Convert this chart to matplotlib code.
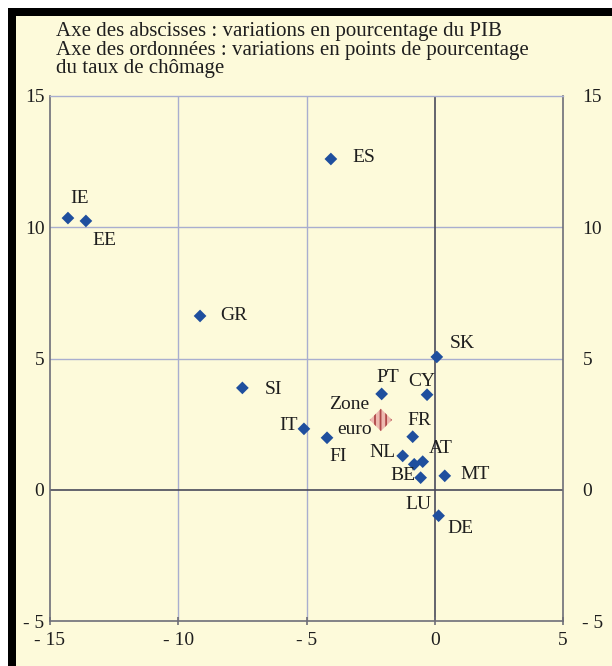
import matplotlib
matplotlib.use("Agg")
import matplotlib.pyplot as plt
from matplotlib.patches import Rectangle

# ---- data ----
countries = ["IE", "EE", "GR", "ES", "SI", "IT", "FI", "PT", "CY", "SK",
             "FR", "NL", "LU", "AT", "BE", "MT", "DE"]
gdp_change = [-14.3, -13.6, -9.15, -4.05, -7.5, -5.1, -4.2, -2.07, -0.3, 0.08,
              -0.86, -1.25, -0.8, -0.47, -0.55, 0.39, 0.15]
unemp_change = [10.35, 10.24, 6.62, 12.6, 3.88, 2.32, 1.98, 3.65, 3.62, 5.06,
                2.02, 1.29, 0.97, 1.07, 0.46, 0.53, -0.99]
euro_label = ["Zone", "euro"]
euro_x = [-2.1]
euro_y = [2.66]
x_ticks = [-15, -10, -5, 0, 5]
y_ticks = [-5, 0, 5, 10, 15]
x_tick_labels = ["- 15", "- 10", "- 5", "0", "5"]
y_tick_labels = ["- 5", "0", "5", "10", "15"]
title_lines = ["Axe des abscisses : variations en pourcentage du PIB",
               "Axe des ordonnées : variations en points de pourcentage",
               "du taux de chômage"]

# label offsets in pixels (layout)
offsets = {
    "IE": (12, 20), "EE": (18, -20), "GR": (34, 0), "ES": (33, 1),
    "SI": (31, -2), "IT": (-15, 3), "FI": (11, -19), "PT": (6, 16),
    "CY": (-5, 13), "SK": (25, 13), "FR": (7, 16), "NL": (-20, 3),
    "LU": (4, -40), "AT": (18, 13), "BE": (-18, 2), "MT": (30, 1),
    "DE": (22, -13),
}

BG = "#FDFADA"
TXT = "#1E1E1E"
W, H = 612, 666
plt.rcParams["font.family"] = ["Liberation Serif", "DejaVu Serif"]
fig = plt.figure(figsize=(W / 100, H / 100), dpi=100, facecolor=BG)

# frame: white margins + black bars top and left
fig.patches.append(Rectangle((0, 0), 8 / W, 1, transform=fig.transFigure,
                             facecolor="white", edgecolor="none", zorder=-1))
fig.patches.append(Rectangle((0, 1 - 8 / H), 1, 8 / H, transform=fig.transFigure,
                             facecolor="white", edgecolor="none", zorder=-1))
fig.patches.append(Rectangle((8 / W, 0), 8 / W, 1 - 8 / H, transform=fig.transFigure,
                             facecolor="black", edgecolor="none", zorder=0))
fig.patches.append(Rectangle((8 / W, 1 - 16 / H), 1 - 8 / W, 8 / H,
                             transform=fig.transFigure,
                             facecolor="black", edgecolor="none", zorder=0))

ax = fig.add_axes([50 / W, 1 - 621 / H, (563 - 50) / W, (621 - 96) / H])
ax.set_facecolor(BG)
ax.set_xlim(-15, 5)
ax.set_ylim(-5, 15)

grid_c = "#A9AECF"
for v in [-10, -5]:
    ax.axvline(v, color=grid_c, lw=1.0, zorder=1)
for v in [5, 10]:
    ax.axhline(v, color=grid_c, lw=1.0, zorder=1)
ax.axvline(0, color="#4A4A5A", lw=1.2, zorder=1)
ax.axhline(0, color="#4A4A5A", lw=1.2, zorder=1)

for s in ["left", "bottom", "right"]:
    ax.spines[s].set_color("#6E6E78")
    ax.spines[s].set_linewidth(1.2)
ax.spines["top"].set_color(grid_c)
ax.spines["top"].set_linewidth(1.0)

ax.set_xticks(x_ticks)
ax.set_xticklabels(x_tick_labels)
ax.set_yticks(y_ticks)
ax.set_yticklabels(y_tick_labels)
ax.tick_params(axis="x", direction="inout", length=6, width=1.2,
               color="#6E6E78", labelsize=14, pad=5, labelcolor=TXT)
ax.tick_params(axis="y", length=0, labelsize=14, pad=4, labelcolor=TXT)

# right-hand labels
ax2 = ax.twinx()
ax2.set_ylim(ax.get_ylim())
ax2.set_yticks(y_ticks)
ax2.set_yticklabels(y_tick_labels)
ax2.tick_params(axis="y", length=0, labelsize=14, pad=14, labelcolor=TXT)
for s in ax2.spines.values():
    s.set_visible(False)

ax.scatter(gdp_change, unemp_change, marker="D", s=42, color="#1F4F9E",
           edgecolors="none", zorder=3)
plt.rcParams["hatch.color"] = "#B04848"
plt.rcParams["hatch.linewidth"] = 1.3
ax.scatter(euro_x, euro_y, marker="D", s=130, facecolor="#EDB9B0",
           edgecolors="none", hatch="|||", zorder=3)

for name, x, y in zip(countries, gdp_change, unemp_change):
    dx, dy = offsets[name]
    ax.annotate(name, (x, y), xytext=(dx, dy), textcoords="offset pixels",
                ha="center", va="center", fontsize=14, color=TXT,
                zorder=4)
ax.annotate(euro_label[0], (euro_x[0], euro_y[0]), xytext=(-32, 15),
            textcoords="offset pixels", ha="center", va="center",
            fontsize=14, color=TXT)
ax.annotate(euro_label[1], (euro_x[0], euro_y[0]), xytext=(-26, -10),
            textcoords="offset pixels", ha="center", va="center",
            fontsize=14, color=TXT)

for i, line in enumerate(title_lines):
    fig.text(56 / W, 1 - (36 + 18.5 * i) / H, line, ha="left", va="baseline",
             fontsize=15, color=TXT)

fig.savefig("out.png", dpi=100, facecolor=BG)
